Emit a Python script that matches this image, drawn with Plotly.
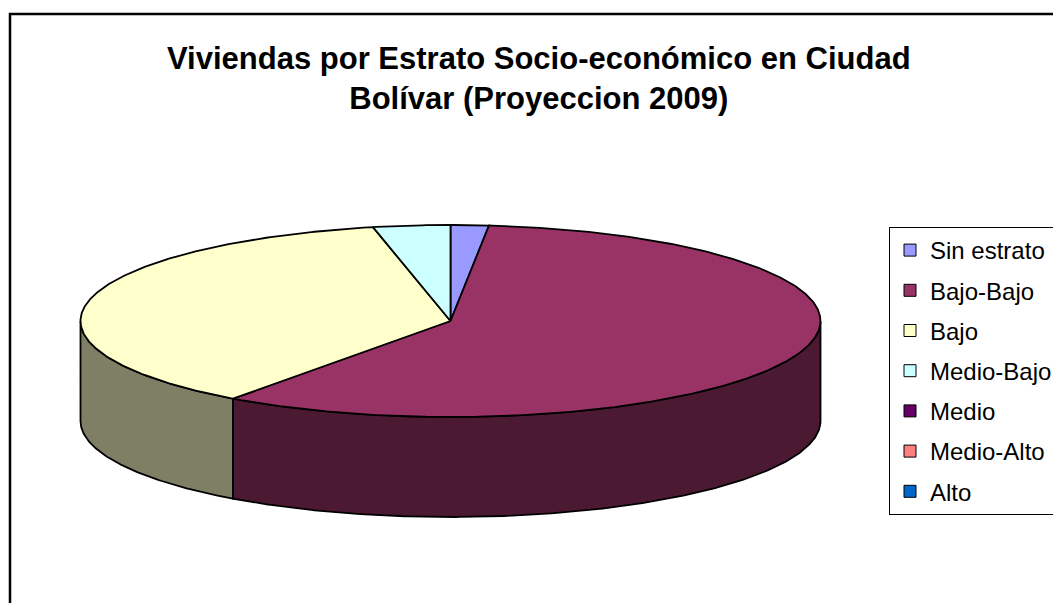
import numpy as np
import plotly.graph_objects as go

# Viviendas por estrato (porcentaje del total, proyección 2009)
categorias = ["Sin estrato", "Bajo-Bajo", "Bajo", "Medio-Bajo", "Medio", "Medio-Alto", "Alto"]
porcentajes = [1.66, 58.35, 36.64, 3.36, 0.0, 0.0, 0.0]
colores = ["#9999FF", "#993366", "#FFFFCC", "#CCFFFF", "#660066", "#FF8080", "#0066CC"]

W, H = 1053, 603
FONT = "Liberation Sans, Arial, sans-serif"

# geometry of the tilted pie (pixel space)
cx, cy = 450.5, 321.0   # centre of the top face
a, b = 370.0, 96.0      # semi-axes of the top ellipse
depth = 100.0           # thickness of the pie


def shade(hex_color, f=0.5):
    h = hex_color.lstrip("#")
    r, g, bl = (int(h[i:i + 2], 16) for i in (0, 2, 4))
    return "#%02X%02X%02X" % (int(r * f), int(g * f), int(bl * f))


def arc(t0, t1, dy=0.0, n=None):
    n = n or max(2, int(abs(t1 - t0) * 2) + 2)
    t = np.radians(np.linspace(t0, t1, n))
    return cx + a * np.sin(t), cy - b * np.cos(t) + dy


fig = go.Figure()

total = sum(porcentajes)
angulos = np.concatenate([[0.0], np.cumsum(porcentajes) / total * 360.0])

# outer walls (only the front half, 90°..270°, is visible)
for i, (v, c) in enumerate(zip(porcentajes, colores)):
    if v <= 0:
        continue
    t0, t1 = max(angulos[i], 90.0), min(angulos[i + 1], 270.0)
    if t1 <= t0:
        continue
    xt, yt = arc(t0, t1)
    xb, yb = arc(t1, t0, dy=depth)
    xs = np.concatenate([xt, xb, xt[:1]])
    ys = np.concatenate([yt, yb, yt[:1]])
    fig.add_trace(go.Scatter(
        x=xs, y=ys, mode="lines", fill="toself", fillcolor=shade(c),
        line=dict(color="black", width=1.8), showlegend=False, hoverinfo="skip"))

# top faces
for i, (cat, v, c) in enumerate(zip(categorias, porcentajes, colores)):
    if v <= 0:
        continue
    xa, ya = arc(angulos[i], angulos[i + 1])
    xs = np.concatenate([[cx], xa, [cx]])
    ys = np.concatenate([[cy], ya, [cy]])
    fig.add_trace(go.Scatter(
        x=xs, y=ys, mode="lines", fill="toself", fillcolor=c,
        line=dict(color="black", width=1.8), showlegend=False,
        name=cat, hoveron="fills", hoverinfo="name"))

# legend entries
for i, (cat, c) in enumerate(zip(categorias, colores)):
    fig.add_trace(go.Scatter(
        x=[None], y=[None], mode="markers", name=cat, legendgroup=str(i),
        marker=dict(symbol="square", size=12, color=c,
                    line=dict(color="black", width=1))))

fig.add_annotation(
    x=539, y=78, xref="x", yref="y", xanchor="center", yanchor="middle",
    text="Viviendas por Estrato Socio-económico en Ciudad<br>Bolívar (Proyeccion 2009)",
    showarrow=False, font=dict(family=FONT, size=31, color="black", weight="bold"))

# chart area frame
fig.add_shape(type="rect", xref="x", yref="y", x0=10, y0=14, x1=W + 20, y1=H + 20,
              line=dict(color="black", width=2.5), fillcolor="rgba(0,0,0,0)", layer="above")

fig.update_layout(
    width=W, height=H, autosize=False,
    margin=dict(l=0, r=0, t=0, b=0, pad=0, autoexpand=False),
    paper_bgcolor="white", plot_bgcolor="white",
    xaxis=dict(range=[0, W], visible=False, fixedrange=True),
    yaxis=dict(range=[H, 0], visible=False, fixedrange=True),
    showlegend=True,
    legend=dict(x=889 / W, y=1 - 227 / H, xanchor="left", yanchor="top",
                bgcolor="white", bordercolor="black", borderwidth=1,
                font=dict(family=FONT, size=24, color="black"),
                tracegroupgap=6, itemwidth=30),
)

fig.write_html("out.html")
